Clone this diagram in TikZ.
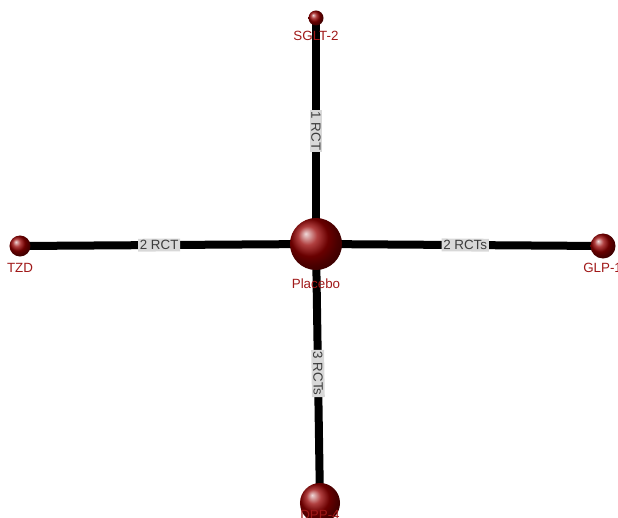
\documentclass[tikz,border=0pt]{standalone}
\usepackage{fontspec}
\setmainfont{Liberation Sans}
\usetikzlibrary{backgrounds}
\definecolor{ballred}{RGB}{150,0,0}
\definecolor{namered}{RGB}{160,25,25}
\definecolor{tagbg}{RGB}{216,216,216}
\definecolor{tagtext}{RGB}{60,60,60}

\begin{document}
\begin{tikzpicture}[x=0.025cm, y=-0.025cm, font=\fontsize{9.5}{11}\selectfont,
	sphere/.style={circle, shading=ball, ball color=ballred, inner sep=0pt},
	drug/.style={text=namered, inner sep=0pt},
	link/.style={line width=0.2cm, black},
	tag/.style={fill=tagbg, text=tagtext, inner sep=1.2pt, sloped}]
	
	\useasboundingbox (0,0) rectangle (618,518);
	
	% Trattamenti (sfere)
	\node[sphere, minimum size=1.3cm] (placebo) at (316,244) {};
	\node[sphere, minimum size=0.375cm] (sglt) at (316,18) {};
	\node[sphere, minimum size=0.525cm] (tzd) at (20,246) {};
	\node[sphere, minimum size=0.625cm] (glp) at (603,246) {};
	\node[sphere, minimum size=1.0cm] (dpp) at (320,503) {};
	
	% Nomi dei trattamenti
	\node[drug] (placebol) at (316,284) {Placebo};
	\node[drug] (sgltl) at (316,36) {SGLT-2};
	\node[drug] (tzdl) at (20,268) {TZD};
	\node[drug, anchor=west] (glpl) at (583,268) {GLP-1};
	\node[drug, anchor=north] (dppl) at (320,510) {DPP-4};
	
	% Confronti diretti
	\begin{pgfonlayer}{background}
		\draw[link] (sglt.center) -- node[tag] {1 RCT} (placebo.center);
		\draw[link] (placebo.center) -- node[tag] {3 RCTs} (dpp.center);
		\draw[link] (tzd.center) -- node[tag, pos=0.47] {2 RCT} (placebo.center);
		\draw[link] (placebo.center) -- node[tag, pos=0.52] {2 RCTs} (glp.center);
	\end{pgfonlayer}
	
\end{tikzpicture}
\end{document}
